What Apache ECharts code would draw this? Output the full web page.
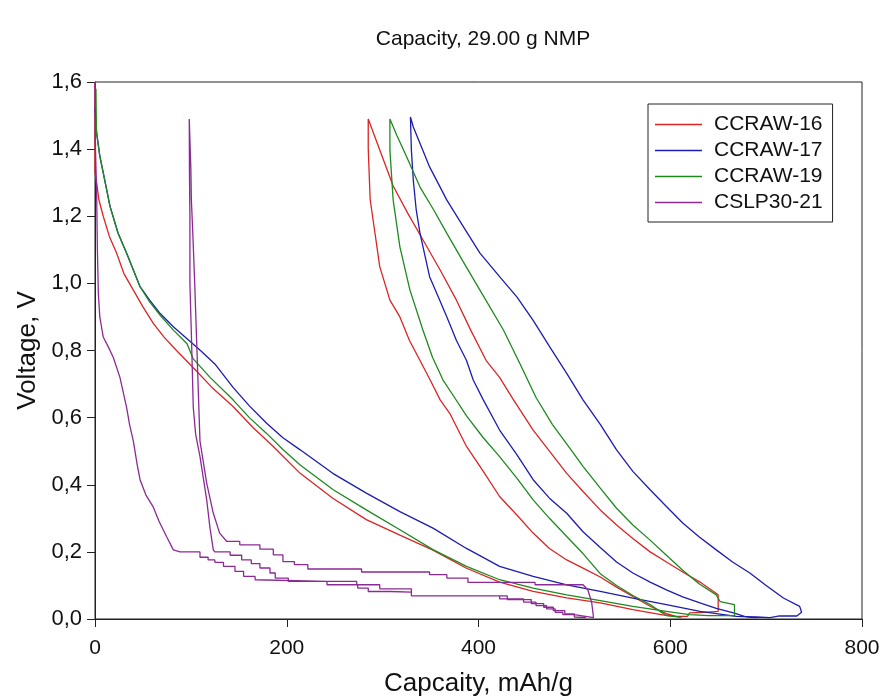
<!DOCTYPE html>
<html>
<head>
<meta charset="utf-8">
<script src="https://cdn.jsdelivr.net/npm/echarts@6/dist/echarts.min.js"></script>
<style>
html,body{margin:0;padding:0;background:#fff;}
#chart{width:882px;height:700px;}
</style>
</head>
<body>
<div id="chart"></div>
<script>
// ---- Data (capacity mAh/g, voltage V) ----
const seriesNames = ['CCRAW-16', 'CCRAW-17', 'CCRAW-19', 'CSLP30-21'];
const xTicks = [0, 200, 400, 600, 800];
const yTicks = ['0,0', '0,2', '0,4', '0,6', '0,8', '1,0', '1,2', '1,4', '1,6'];

// CCRAW-16: 1st discharge -> charge -> 2nd discharge
const ccraw16Cap = [
  0, 0, 1.7, 4, 8.6, 15, 22.6, 30, 40, 50, 61, 72, 85, 102, 122, 144, 165, 186, 214, 248, 283, 318, 352, 387, 422, 457, 492, 527, 561, 592, 606, 618, 620, 635, 650,
  650, 631, 613, 596, 579, 561, 544, 527, 509, 492, 474, 457, 436, 422, 408, 392, 377, 360, 342, 326, 311, 298, 285,
  285, 287, 292, 297, 307.6, 318, 328, 339, 350, 360, 370, 387.5, 405, 422, 440, 457, 474, 492, 510, 527, 544, 561, 579, 596, 606, 612
];
const ccraw16Volt = [
  1.6, 1.33, 1.30, 1.25, 1.20, 1.14, 1.09, 1.03, 0.98, 0.93, 0.88, 0.84, 0.80, 0.75, 0.69, 0.633, 0.57, 0.514, 0.434, 0.36, 0.296, 0.25, 0.206, 0.152, 0.11, 0.082, 0.063, 0.048, 0.028, 0.012, 0.008, 0.008, 0.018, 0.02, 0.023,
  0.072, 0.11, 0.14, 0.17, 0.2, 0.24, 0.28, 0.325, 0.38, 0.434, 0.5, 0.563, 0.655, 0.72, 0.77, 0.86, 0.95, 1.04, 1.13, 1.21, 1.29, 1.39, 1.49,
  1.40, 1.25, 1.15, 1.05, 0.95, 0.90, 0.83, 0.77, 0.71, 0.653, 0.613, 0.514, 0.44, 0.365, 0.31, 0.256, 0.21, 0.176, 0.15, 0.125, 0.095, 0.067, 0.038, 0.016, 0.008, 0.005
];

// CCRAW-17
const ccraw17Cap = [
  0, 1.7, 5, 10, 15.6, 24, 33, 40, 47, 57, 68, 82, 96, 110, 125, 144, 161, 179, 196, 214, 248, 283, 318, 353, 387, 422, 457, 492, 527, 561, 596, 631, 669, 690, 704, 714, 732, 737, 739,
  735, 718, 700, 683, 665, 648, 630, 613, 596, 579, 561, 544, 527, 509, 492, 474.5, 457, 440, 422, 401.5, 384, 367, 349, 340, 332, 329,
  330, 332, 335, 339, 349, 358, 367, 377, 387.5, 394.5, 405, 422, 440, 457, 474, 492, 509, 527, 544, 561, 579, 596, 613, 631, 648, 666, 679, 690
];
const ccraw17Volt = [
  1.52, 1.45, 1.38, 1.31, 1.23, 1.15, 1.09, 1.04, 0.99, 0.95, 0.91, 0.87, 0.835, 0.80, 0.76, 0.69, 0.635, 0.583, 0.54, 0.504, 0.434, 0.375, 0.32, 0.27, 0.211, 0.157, 0.127, 0.102, 0.082, 0.0625, 0.043, 0.023, 0.008, 0.006, 0.004, 0.009, 0.009, 0.02, 0.025,
  0.0375, 0.0625, 0.10, 0.137, 0.17, 0.206, 0.245, 0.286, 0.335, 0.385, 0.44, 0.504, 0.58, 0.653, 0.732, 0.81, 0.89, 0.96, 1.02, 1.09, 1.17, 1.248, 1.347, 1.41, 1.466, 1.496,
  1.397, 1.307, 1.22, 1.149, 1.02, 0.96, 0.90, 0.83, 0.77, 0.712, 0.653, 0.563, 0.49, 0.415, 0.36, 0.315, 0.26, 0.213, 0.17, 0.137, 0.11, 0.087, 0.066, 0.048, 0.032, 0.018, 0.006, 0.004
];

// CCRAW-19
const ccraw19Cap = [
  1, 1.5, 5, 10, 15.6, 24, 33, 40, 47, 57, 68, 82, 96, 102.5, 120, 144, 161, 179, 196, 214, 248.5, 283, 318, 353, 387.5, 422, 457, 492, 527, 561, 596, 620, 640, 667,
  667, 652, 648, 630, 613, 596, 579, 561, 544, 527, 509, 495, 477, 460, 443, 426, 401.5, 384, 367, 353, 339, 325, 315, 307.6,
  307.6, 311, 318, 328.5, 342, 352, 363, 375, 387.5, 405, 422, 440, 457, 474, 492, 509, 527, 544, 561, 579, 589, 596, 610
];
const ccraw19Volt = [
  1.58, 1.45, 1.38, 1.31, 1.23, 1.15, 1.09, 1.04, 0.99, 0.945, 0.905, 0.86, 0.82, 0.775, 0.72, 0.653, 0.60, 0.553, 0.505, 0.459, 0.385, 0.325, 0.266, 0.206, 0.157, 0.117, 0.092, 0.072, 0.055, 0.0375, 0.023, 0.013, 0.01, 0.01,
  0.043, 0.052, 0.072, 0.105, 0.145, 0.19, 0.235, 0.28, 0.33, 0.39, 0.455, 0.51, 0.58, 0.66, 0.762, 0.861, 0.98, 1.065, 1.149, 1.22, 1.287, 1.377, 1.44, 1.49,
  1.397, 1.248, 1.109, 0.98, 0.861, 0.78, 0.712, 0.66, 0.605, 0.54, 0.484, 0.42, 0.355, 0.30, 0.246, 0.195, 0.135, 0.10, 0.07, 0.043, 0.023, 0.01, 0.006
];

// CSLP30-21 (stair-stepped voltage resolution)
const cslp21Cap = [
  0, 0.5, 1.7, 2.5, 3.5, 5, 8.6, 14, 19, 26, 33, 36, 40, 44, 47, 53, 60.5, 67, 74.6, 81.7, 88.6,
  109.5, 109.5, 118, 118, 125, 125, 134, 134, 146, 146, 155, 155, 167, 167, 168.5, 168.5, 242, 242, 274, 274, 285, 285, 308, 330, 330,
  422, 422, 447, 447, 460, 460, 471, 471, 480, 480, 488, 488, 500, 500, 520,
  518, 514, 509, 459, 459, 389, 389, 367, 367, 349, 349, 278, 278, 222, 222, 208, 208, 196, 196, 186, 186, 172, 172, 151, 151, 137.5,
  130, 123.4, 116.5, 109.5, 106, 104, 102, 100.5, 100, 98.3,
  98.5, 99, 99, 100.7, 102.5, 105, 109.5, 116.5, 120, 123.4, 125, 141, 141, 153, 153, 163, 163, 172, 172, 182.5, 182.5, 188, 188, 201.6, 201.6,
  273, 273, 297, 297, 330, 330, 430, 430, 455, 455, 468, 468, 478, 478, 490, 490, 500, 500, 512
];
const cslp21Volt = [
  1.6, 1.4, 1.27, 1.1, 0.97, 0.90, 0.84, 0.81, 0.78, 0.72, 0.63, 0.58, 0.53, 0.46, 0.415, 0.37, 0.335, 0.29, 0.246, 0.206, 0.2,
  0.2, 0.184, 0.184, 0.176, 0.176, 0.169, 0.169, 0.157, 0.157, 0.142, 0.142, 0.127, 0.127, 0.117, 0.117, 0.112, 0.112, 0.102, 0.102, 0.092, 0.092, 0.082, 0.082, 0.08, 0.069,
  0.069, 0.06, 0.06, 0.05, 0.05, 0.04, 0.04, 0.03, 0.03, 0.02, 0.02, 0.013, 0.013, 0.008, 0.004,
  0.05, 0.087, 0.102, 0.102, 0.109, 0.109, 0.122, 0.122, 0.132, 0.132, 0.14, 0.14, 0.149, 0.149, 0.162, 0.162, 0.171, 0.171, 0.191, 0.191, 0.208, 0.208, 0.221, 0.221, 0.231, 0.231,
  0.256, 0.315, 0.405, 0.53, 0.83, 1.0, 1.15, 1.25, 1.34, 1.49,
  1.34, 1.2, 1.0, 0.83, 0.63, 0.55, 0.484, 0.355, 0.27, 0.206, 0.2, 0.2, 0.19, 0.19, 0.176, 0.176, 0.165, 0.165, 0.152, 0.152, 0.137, 0.137, 0.122, 0.122, 0.112,
  0.112, 0.102, 0.102, 0.09, 0.09, 0.069, 0.069, 0.058, 0.058, 0.046, 0.046, 0.035, 0.035, 0.025, 0.025, 0.015, 0.015, 0.006, 0.004
];

const colors = ['#dd2424', '#1c1cb0', '#1e8a1e', '#8b2a94'];
const caps = [ccraw16Cap, ccraw17Cap, ccraw19Cap, cslp21Cap];
const volts = [ccraw16Volt, ccraw17Volt, ccraw19Volt, cslp21Volt];

const FONT = 'Liberation Sans, Arial, sans-serif';
const chart = echarts.init(document.getElementById('chart'), null, {renderer: 'canvas'});

const series = seriesNames.map((name, i) => ({
  name: name,
  type: 'line',
  data: caps[i].map((c, k) => [c, volts[i][k]]),
  symbol: 'none',
  showSymbol: false,
  smooth: false,
  clip: true,
  lineStyle: {color: colors[i], width: 1.3},
  itemStyle: {color: colors[i]},
  z: 3
}));

chart.setOption({
  animation: false,
  backgroundColor: '#ffffff',
  title: {
    text: 'Capacity, 29.00 g NMP',
    left: 478,
    top: 24,
    textAlign: 'center',
    textStyle: {fontFamily: FONT, fontSize: 21, fontWeight: 'normal', color: '#111'}
  },
  grid: {
    left: 95, right: 20, top: 82, bottom: 81,
    containLabel: false,
    outerBoundsMode: 'none',
    show: true, borderColor: '#222', borderWidth: 1, backgroundColor: 'transparent'
  },
  legend: {
    orient: 'vertical',
    left: 648,
    top: 104,
    padding: [10, 10, 9, 7],
    itemGap: 5,
    itemWidth: 47,
    itemHeight: 1.5,
    icon: 'rect',
    borderColor: '#222',
    borderWidth: 1,
    backgroundColor: '#fff',
    textStyle: {fontFamily: FONT, fontSize: 21, color: '#111', lineHeight: 20, padding: [0, 0, 0, 7]},
    data: seriesNames
  },
  xAxis: {
    type: 'value',
    min: 0, max: 800, interval: 200,
    name: 'Capcaity, mAh/g',
    nameLocation: 'middle',
    nameGap: 52,
    nameTextStyle: {fontFamily: FONT, fontSize: 26, color: '#111'},
    axisLine: {show: true, lineStyle: {color: '#222', width: 1}},
    axisTick: {show: true, inside: false, length: 8, lineStyle: {color: '#222'}},
    axisLabel: {
      fontFamily: FONT, fontSize: 21, color: '#111', margin: 19,
      formatter: v => String(xTicks[xTicks.indexOf(v)])
    },
    splitLine: {show: false}
  },
  yAxis: {
    type: 'value',
    min: 0, max: 1.6, interval: 0.2,
    name: 'Voltage, V',
    nameLocation: 'middle',
    nameGap: 53,
    nameTextStyle: {fontFamily: FONT, fontSize: 26, color: '#111'},
    axisLine: {show: true, lineStyle: {color: '#222', width: 1}},
    axisTick: {show: true, inside: false, length: 8, lineStyle: {color: '#222'}},
    axisLabel: {
      fontFamily: FONT, fontSize: 22, color: '#111', margin: 13,
      formatter: v => yTicks[Math.round(v / 0.2)]
    },
    splitLine: {show: false}
  },
  series: series
});
</script>
</body>
</html>
